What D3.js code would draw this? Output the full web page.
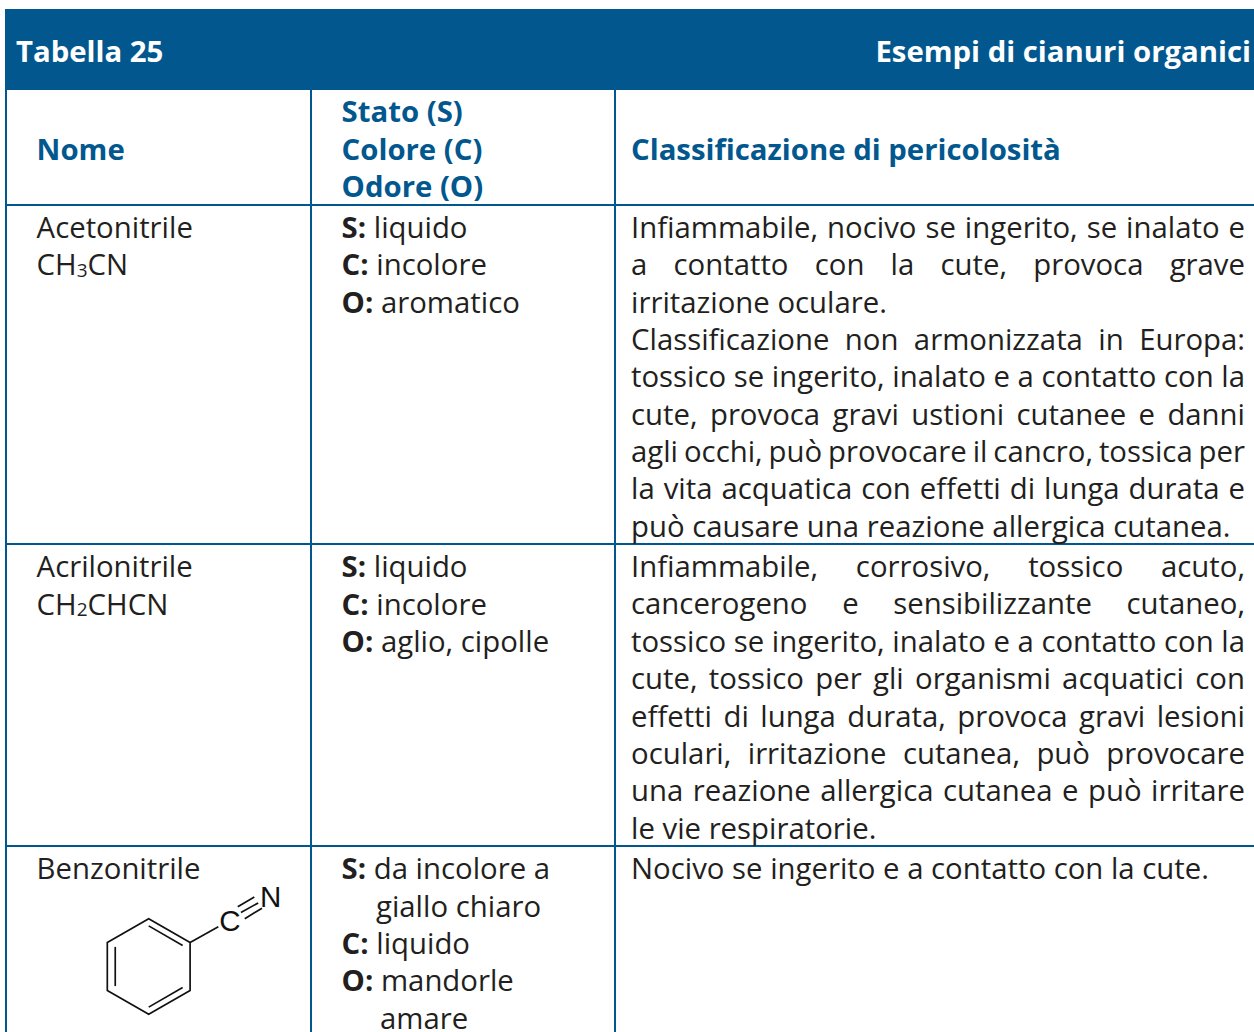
<!DOCTYPE html>
<html>
<head>
<meta charset="utf-8">
<script src="https://cdn.jsdelivr.net/npm/d3@7"></script>
<style>
  html, body { margin: 0; padding: 0; background: #fff; overflow: hidden; }
  text { font-family: "Open Sans", sans-serif; font-size: 29.33px; fill: #231f20; }
  .head { fill: #02588e; font-weight: 700; }
  .title { fill: #fff; font-weight: 700; }
</style>
</head>
<body>
<div id="table"></div>
<script>
const title = "Tabella 25";
const subtitle = "Esempi di cianuri organici";
const colHeads = [["Nome"], ["Stato (S)", "Colore (C)", "Odore (O)"], ["Classificazione di pericolosità"]];

// names: _x_ is subscript
const names = [["Acetonitrile", "CH_3_CN"], ["Acrilonitrile", "CH_2_CHCN"], ["Benzonitrile"]];

// *x* is bold
const properties = [
  ["*S:* liquido", "*C:* incolore", "*O:* aromatico"],
  ["*S:* liquido", "*C:* incolore", "*O:* aglio, cipolle"],
  ["*S:* da incolore a", "giallo chiaro", "*C:* liquido", "*O:* mandorle", "amare"]
];

// trailing | means the line is not justified
const hazards = [
  ["Infiammabile, nocivo se ingerito, se inalato e",
   "a contatto con la cute, provoca grave",
   "irritazione oculare.|",
   "Classificazione non armonizzata in Europa:",
   "tossico se ingerito, inalato e a contatto con la",
   "cute, provoca gravi ustioni cutanee e danni",
   "agli occhi, può provocare il cancro, tossica per",
   "la vita acquatica con effetti di lunga durata e",
   "può causare una reazione allergica cutanea.|"],
  ["Infiammabile, corrosivo, tossico acuto,",
   "cancerogeno e sensibilizzante cutaneo,",
   "tossico se ingerito, inalato e a contatto con la",
   "cute, tossico per gli organismi acquatici con",
   "effetti di lunga durata, provoca gravi lesioni",
   "oculari, irritazione cutanea, può provocare",
   "una reazione allergica cutanea e può irritare",
   "le vie respiratorie.|"],
  ["Nocivo se ingerito e a contatto con la cute.|"]
];

// benzonitrile skeleton in bond-length units, ring centre at 0,0
const ringAtoms = [[0, -1], [0.866, -0.5], [0.866, 0.5], [0, 1], [-0.866, 0.5], [-0.866, -0.5]];
const innerBonds = [[[0, -0.85], [0.71, -0.44]], [[0.71, 0.44], [0, 0.85]], [[-0.7, 0.41], [-0.7, -0.41]]];
const sideBond = [[0.866, -0.5], [1.456, -0.833]];
const tripleBonds = [
  [[1.863, -1.251], [2.21, -1.454]],
  [[1.93, -1.13], [2.29, -1.33]],
  [[2.01, -1.0], [2.37, -1.22]]
];
const atomLabels = [{t: "C", p: [1.70, -0.97]}, {t: "N", p: [2.55, -1.46]}];

const blue = "#02588e";
const width = 1254, height = 1032;
const colX = [6, 311, 615];       // column rules
const textX = [36.6, 341.6, 631];
const rightEdge = 1245;
const lineStep = 37.4;
const rowRules = [205, 544, 846];
const rowBase = [238, 577, 879];
const hazardStep = [37.35, 37.4, 37.4];
const subDrop = 1.5;

const svg = d3.select("#table")
  .append("svg")
  .attr("width", width)
  .attr("height", height)
  .style("display", "block");

// title band
svg.append("rect")
  .attr("x", 5).attr("y", 9)
  .attr("width", width - 5).attr("height", 81)
  .attr("fill", blue);

svg.append("text").attr("class", "title").attr("x", 16).attr("y", 62).text(title);
svg.append("text").attr("class", "title").attr("x", 1251).attr("y", 62)
  .attr("text-anchor", "end").text(subtitle);

// rules
svg.selectAll(".vrule")
  .data(colX)
  .join("line")
  .attr("class", "vrule")
  .attr("x1", d => d).attr("x2", d => d)
  .attr("y1", 90).attr("y2", height)
  .attr("stroke", blue).attr("stroke-width", 2);

svg.selectAll(".hrule")
  .data(rowRules)
  .join("line")
  .attr("class", "hrule")
  .attr("x1", 5).attr("x2", width)
  .attr("y1", d => d).attr("y2", d => d)
  .attr("stroke", blue).attr("stroke-width", 2);

// column heads
colHeads.forEach((lines, c) => {
  const y0 = 159.8 - (lines.length - 1) / 2 * lineStep;
  svg.append("g").selectAll("text")
    .data(lines)
    .join("text")
    .attr("class", "head")
    .attr("x", textX[c])
    .attr("y", (d, i) => y0 + i * lineStep)
    .text(d => d);
});

// one line of text, splitting out *bold* and _sub_ runs
function addLine(g, str, x, y) {
  const t = g.append("text").attr("x", x).attr("y", y).attr("xml:space", "preserve");
  let afterSub = false;
  str.split(/(\*[^*]+\*|_[^_]+_)/).filter(s => s).forEach(s => {
    if (s[0] === "*") {
      t.append("tspan").attr("font-weight", 700).text(s.slice(1, -1));
    } else if (s[0] === "_") {
      t.append("tspan").attr("font-size", 19).attr("dy", subDrop).text(s.slice(1, -1));
      afterSub = true;
    } else {
      const span = t.append("tspan").text(s);
      if (afterSub) span.attr("dy", -subDrop);
      afterSub = false;
    }
  });
  return t;
}

const body = svg.append("g");

names.forEach((lines, r) => {
  lines.forEach((s, i) => addLine(body, s, textX[0], rowBase[r] + (r ? 0.2 : 0) + i * lineStep));
});

properties.forEach((lines, r) => {
  lines.forEach((s, i) => {
    // wrapped continuation lines hang under the value
    let x = textX[1];
    if (s === "giallo chiaro") x = 376;
    if (s === "amare") x = 380;
    addLine(body, s, x, rowBase[r] + (r ? 0.2 : 0) + i * lineStep);
  });
});

hazards.forEach((lines, r) => {
  lines.forEach((s, i) => {
    const plain = s.endsWith("|");
    const str = plain ? s.slice(0, -1) : s;
    const t = addLine(body, str, textX[2], rowBase[r] + i * hazardStep[r]);
    if (!plain) {
      const gaps = str.split(" ").length - 1;
      const extra = rightEdge - textX[2] - t.node().getComputedTextLength();
      t.attr("word-spacing", extra / gaps);
    }
  });
});

// benzonitrile structure
const mx = d3.scaleLinear().domain([0, 1]).range([148.7, 196.5]);
const my = d3.scaleLinear().domain([0, 1]).range([966.5, 1014.3]);
const mol = svg.append("g").attr("stroke", "#111").attr("stroke-width", 1.7).attr("fill", "none");
const molLine = d3.line().x(d => mx(d[0])).y(d => my(d[1]));

mol.append("path").attr("d", molLine(ringAtoms) + "Z").attr("stroke-linejoin", "round");
mol.selectAll(".bond")
  .data([...innerBonds, sideBond, ...tripleBonds])
  .join("path")
  .attr("class", "bond")
  .attr("d", molLine);

svg.selectAll(".atom")
  .data(atomLabels)
  .join("text")
  .attr("class", "atom")
  .attr("x", d => mx(d.p[0]))
  .attr("y", d => my(d.p[1]))
  .attr("dy", "0.36em")
  .attr("text-anchor", "middle")
  .style("font-family", '"Liberation Sans", sans-serif')
  .style("font-size", "29.5px")
  .style("fill", "#111")
  .text(d => d.t);
</script>
</body>
</html>
